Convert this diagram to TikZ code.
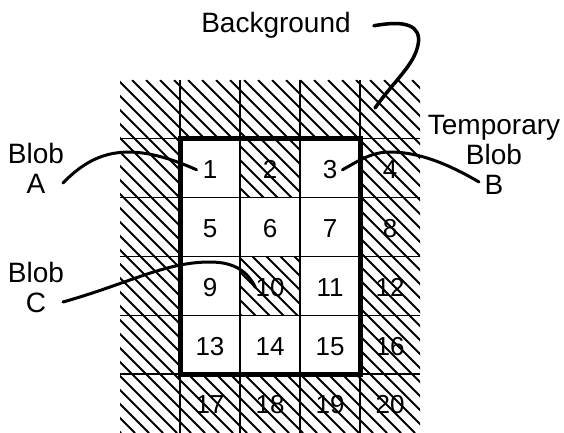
\documentclass[tikz,border=0pt]{standalone}
\usepackage{fontspec}
\setmainfont{Liberation Sans}
\usepackage{tikz}

\begin{document}
\begin{tikzpicture}[x=1pt,y=-1pt,
  hatch/.style={line width=2pt},
  grid/.style={line width=1.3pt},
  blobbox/.style={line width=5pt},
  num/.style={inner sep=0pt,font=\fontsize{26}{28}\selectfont},
  lbl/.style={inner sep=0pt,align=center,font=\fontsize{28}{30}\selectfont},
  lead/.style={line width=3pt,line cap=round}]
\useasboundingbox (0,0) rectangle (564,433);
\begin{scope}[even odd rule]
\clip (120,80) rectangle (420,433) (180,138.8) rectangle (360,374)
  (240,138.8) rectangle (300,197.6) (240,256.4) rectangle (300,315.2);
\foreach \i in {-232,-218,...,420}
  \draw[hatch] (\i,80) -- ++(353,353);
\end{scope}
\foreach \x in {180,240,...,360}
  \draw[grid] (\x,80) -- (\x,433);
\foreach \r in {1,...,5}
  \draw[grid] (120,{80+58.8*\r}) -- (420,{80+58.8*\r});
\draw[blobbox] (180,138.8) rectangle (360,374);
\foreach \r in {1,...,5}
  \foreach \c in {1,...,4}{
    \pgfmathtruncatemacro\n{4*(\r-1)+\c}
    \node[num] (c\n) at ({150+60*\c},{111+58.8*\r}) {\n};
  }
\node[lbl,anchor=base] (bg) at (276,33) {Background};
\node[lbl,anchor=north] (lblA) at (36,143) {Blob\\A};
\node[lbl,anchor=north] (lblC) at (36,262) {Blob\\C};
\node[lbl,anchor=north] (lblB) at (494,115) {Temporary\\Blob\\B};
\coordinate (tipA) at (63,183);
\coordinate (tipC) at (63,302);
\coordinate (tipB) at (479,182);
\coordinate (tipBg) at (375,108);
\draw[lead] (tipA) .. controls (95,150) and (130,140) .. ([xshift=-6pt]c1.west);
\draw[lead] (tipC) .. controls (130,283) and (165,262) .. (210,262)
  .. controls (235,262) and (248,272) .. (c10.west);
\draw[lead] ([xshift=5pt]c3.east) .. controls (360,160) and (372,152) .. (390,152)
  .. controls (420,152) and (450,165) .. (tipB);
\draw[lead,line width=3.5pt] ([xshift=23pt]bg.east) .. controls (405,20) and (422,25) .. (418,45)
  .. controls (414,65) and (395,80) .. (tipBg);
\end{tikzpicture}
\end{document}
